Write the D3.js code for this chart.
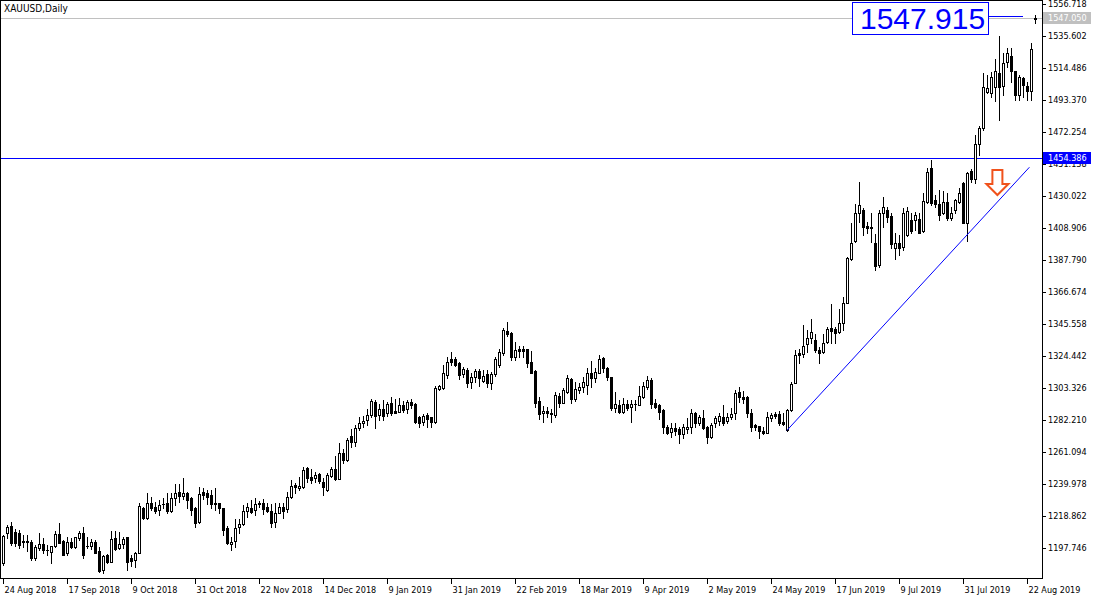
<!DOCTYPE html>
<html><head><meta charset="utf-8">
<script src="https://cdn.jsdelivr.net/npm/d3@7"></script>
<style>
html,body{margin:0;padding:0;background:#fff;}
svg{display:block;}
</style></head><body>
<svg id="c" width="1100" height="600"></svg>
<script>
const chartTitle = "XAUUSD,Daily";
const openP = [
1188.0,1207.4,1212.2,1208.5,1207.8,1202.3,1202.1,1201.9,1190.9,1197.5,
1200.4,1196.6,1195.3,1199.0,1207.0,1202.6,1194.2,1201.9,1198.2,1204.1,
1207.8,1198.8,1199.0,1201.9,1195.7,1183.2,1193.1,1188.7,1204.1,1197.5,
1200.4,1204.8,1191.1,1189.8,1194.6,1223.9,1217.3,1227.6,1225.0,1222.8,
1226.6,1227.6,1222.4,1230.5,1234.9,1232.0,1233.8,1230.5,1223.9,1215.1,
1234.7,1233.8,1232.7,1227.4,1227.2,1223.9,1210.7,1200.4,1202.6,1211.4,
1213.6,1222.4,1223.9,1222.8,1227.4,1227.2,1224.6,1222.4,1215.1,1221.1,
1225.0,1223.3,1231.2,1239.1,1237.1,1237.8,1250.3,1244.8,1243.7,1246.6,
1241.5,1236.0,1245.5,1249.6,1243.0,1260.2,1256.0,1271.5,1268.0,1277.0,
1280.5,1282.0,1285.5,1294.3,1285.5,1289.2,1286.6,1293.6,1288.0,1287.7,
1292.1,1289.2,1294.3,1292.8,1284.0,1281.1,1285.5,1284.0,1281.1,1302.4,
1303.1,1311.9,1322.2,1322.2,1319.6,1312.6,1315.2,1307.5,1310.8,1314.8,
1308.2,1312.6,1306.4,1312.6,1318.5,1326.6,1341.2,1339.4,1324.0,1328.8,
1329.1,1328.8,1320.7,1314.8,1295.0,1286.6,1288.4,1287.0,1285.5,1298.0,
1293.6,1300.9,1309.0,1295.8,1302.0,1303.8,1305.3,1313.4,1309.7,1313.4,
1322.9,1316.3,1310.4,1290.3,1292.1,1287.7,1292.8,1290.6,1292.6,1292.1,
1297.6,1304.2,1308.6,1293.6,1292.1,1288.8,1277.4,1274.5,1276.7,1276.0,
1273.0,1276.1,1277.4,1287.1,1280.5,1283.3,1277.8,1270.8,1280.5,1281.8,
1284.4,1281.8,1284.0,1287.1,1300.9,1297.2,1297.2,1287.1,1278.9,1278.3,
1275.2,1273.9,1283.3,1286.2,1286.2,1281.1,1275.6,1288.8,1306.9,1326.7,
1325.8,1332.4,1336.1,1335.0,1328.4,1327.3,1333.9,1342.7,1342.1,1340.5,
1346.5,1359.7,1388.2,1400.6,1419.0,1420.8,1410.0,1409.4,1399.0,1384.5,
1418.6,1420.8,1416.9,1395.5,1398.8,1396.6,1404.3,1414.2,1414.4,1414.7,
1407.2,1426.3,1448.3,1427.4,1424.8,1418.6,1426.3,1415.3,1420.8,1426.3,
1438.4,1412.5,1446.8,1441.1,1464.4,1474.7,1498.9,1497.8,1501.8,1511.4,
1502.6,1518.7,1522.4,1512.8,1496.7,1507.7,1502.6,1499.0,1547.5];
const highP = [
1206.3,1213.0,1215.1,1210.5,1209.6,1206.3,1206.3,1203.0,1199.7,1207.4,
1204.1,1199.7,1199.0,1209.2,1214.0,1203.0,1205.2,1204.1,1205.2,1209.2,
1211.8,1204.8,1203.4,1203.0,1198.6,1193.1,1193.8,1209.2,1209.2,1208.5,
1205.2,1205.2,1193.1,1195.3,1227.2,1225.0,1233.8,1231.6,1228.3,1229.4,
1230.5,1233.8,1233.8,1240.2,1240.0,1243.7,1234.9,1231.6,1225.0,1237.8,
1237.2,1236.0,1236.0,1237.2,1227.7,1224.4,1212.3,1205.2,1216.7,1216.7,
1226.1,1227.7,1229.4,1230.5,1228.9,1229.8,1227.7,1226.8,1227.7,1227.2,
1227.2,1234.9,1242.6,1240.4,1244.8,1251.0,1251.0,1249.6,1248.1,1247.4,
1243.7,1247.0,1251.0,1258.4,1266.8,1262.8,1270.5,1276.5,1278.9,1284.4,
1284.8,1289.2,1295.8,1295.4,1292.8,1295.4,1294.3,1297.2,1295.8,1296.5,
1295.0,1295.4,1295.8,1293.5,1284.8,1286.2,1287.0,1284.4,1304.6,1305.3,
1318.5,1324.0,1327.3,1324.0,1320.7,1317.4,1316.3,1313.0,1315.6,1315.6,
1315.2,1315.2,1314.1,1324.0,1328.8,1342.7,1347.1,1340.5,1333.9,1331.0,
1331.0,1329.0,1328.0,1315.0,1297.2,1291.4,1291.0,1289.2,1300.9,1300.2,
1303.1,1311.9,1309.7,1307.5,1306.8,1310.4,1316.3,1321.4,1316.3,1325.1,
1324.0,1317.4,1310.8,1300.9,1295.4,1296.5,1295.4,1295.4,1295.4,1304.6,
1307.5,1311.2,1309.7,1295.8,1292.8,1289.2,1279.0,1280.0,1280.4,1277.8,
1279.6,1283.3,1289.3,1287.7,1285.5,1288.8,1278.3,1280.0,1284.9,1286.6,
1292.1,1286.6,1289.9,1302.0,1304.2,1301.6,1298.1,1289.3,1279.6,1278.3,
1277.8,1287.7,1287.1,1287.7,1288.4,1286.6,1289.3,1307.5,1328.4,1328.9,
1344.9,1341.6,1348.7,1339.0,1330.6,1339.0,1343.8,1358.8,1343.4,1355.3,
1363.6,1389.6,1412.0,1424.8,1439.5,1421.9,1413.1,1418.6,1405.0,1420.5,
1429.6,1423.0,1418.6,1405.9,1404.3,1421.9,1423.0,1418.6,1419.7,1418.6,
1432.3,1448.3,1453.8,1430.7,1434.0,1433.6,1431.8,1422.6,1427.9,1435.1,
1439.5,1446.1,1447.7,1470.3,1476.2,1511.4,1509.9,1512.1,1520.2,1535.6,
1524.2,1527.5,1527.5,1512.8,1509.9,1508.4,1505.5,1531.2,1549.5];
const lowP = [
1186.5,1204.1,1199.7,1199.0,1197.5,1198.2,1196.0,1189.8,1189.8,1196.3,
1194.2,1193.1,1188.0,1198.6,1200.8,1192.8,1193.1,1197.5,1197.5,1203.0,
1190.9,1197.5,1196.8,1194.2,1182.1,1181.0,1187.6,1188.2,1196.4,1196.8,
1197.5,1183.2,1185.8,1184.9,1194.2,1216.6,1216.6,1222.8,1220.6,1219.5,
1223.9,1220.6,1221.7,1226.1,1228.3,1229.8,1223.9,1219.5,1211.8,1214.5,
1229.8,1226.8,1223.9,1222.8,1220.6,1206.3,1200.4,1196.4,1198.6,1207.9,
1212.9,1218.4,1220.6,1219.5,1225.0,1220.2,1221.7,1211.8,1211.8,1220.6,
1217.3,1221.7,1230.5,1233.8,1236.0,1237.1,1241.5,1240.4,1241.5,1240.8,
1232.7,1235.6,1244.8,1242.6,1243.0,1254.0,1255.0,1264.5,1265.0,1275.6,
1277.8,1278.9,1284.4,1276.7,1282.2,1282.2,1284.8,1285.5,1286.6,1287.7,
1287.7,1286.6,1289.9,1280.0,1277.8,1278.9,1277.8,1277.4,1280.5,1302.0,
1302.5,1309.7,1318.5,1317.8,1309.0,1310.8,1303.8,1303.1,1307.5,1304.6,
1307.5,1304.2,1302.4,1311.2,1317.0,1325.1,1337.6,1321.8,1321.8,1324.0,
1323.6,1317.0,1313.0,1291.0,1282.6,1281.1,1284.0,1281.1,1284.4,1291.0,
1293.2,1299.8,1293.2,1295.0,1299.8,1300.9,1299.4,1304.2,1307.5,1313.0,
1314.1,1308.6,1288.8,1287.7,1286.6,1286.6,1288.8,1281.1,1288.8,1292.0,
1296.5,1302.4,1289.9,1289.9,1282.6,1273.4,1273.0,1271.2,1272.3,1266.8,
1270.1,1273.4,1273.9,1277.8,1278.9,1276.1,1266.8,1270.1,1277.8,1278.9,
1278.9,1280.0,1282.7,1282.7,1294.3,1293.2,1284.4,1275.2,1275.6,1270.1,
1273.0,1273.4,1281.8,1283.3,1278.9,1278.9,1275.2,1288.4,1306.4,1320.1,
1324.0,1327.3,1332.8,1327.3,1320.1,1326.7,1333.3,1332.8,1333.3,1339.4,
1341.6,1359.2,1387.8,1399.9,1413.1,1404.3,1405.4,1399.9,1381.5,1383.0,
1409.8,1413.1,1396.0,1388.5,1391.0,1394.4,1403.7,1405.4,1407.6,1405.4,
1406.5,1425.2,1424.1,1423.0,1414.2,1418.2,1414.2,1414.2,1418.6,1425.2,
1412.0,1400.6,1439.5,1438.4,1457.1,1473.5,1497.8,1495.6,1493.0,1480.2,
1496.7,1515.4,1505.5,1493.4,1493.4,1495.6,1493.4,1493.4,1544.4];
const closeP = [
1205.5,1211.8,1200.8,1200.8,1199.7,1201.9,1201.7,1190.9,1198.2,1200.4,
1196.4,1196.2,1199.0,1207.0,1201.2,1193.1,1201.9,1198.2,1204.8,1207.8,
1193.1,1199.0,1201.9,1194.6,1182.8,1192.4,1188.7,1203.4,1196.8,1200.4,
1203.4,1188.7,1189.4,1194.2,1225.4,1217.3,1227.2,1223.9,1222.4,1226.1,
1226.8,1222.4,1230.5,1233.8,1232.0,1233.8,1229.4,1222.8,1214.5,1233.4,
1232.7,1231.6,1226.8,1227.0,1223.9,1209.6,1200.8,1201.9,1210.7,1213.6,
1222.2,1224.6,1221.7,1226.8,1227.0,1223.3,1222.4,1214.5,1221.1,1224.6,
1222.4,1231.2,1238.6,1237.8,1238.6,1249.2,1244.1,1242.6,1245.9,1242.2,
1238.2,1245.9,1249.6,1243.0,1260.2,1255.8,1269.0,1268.0,1276.7,1280.0,
1281.5,1285.5,1295.0,1284.8,1289.2,1284.8,1292.8,1286.6,1287.0,1292.1,
1288.8,1294.3,1292.1,1281.1,1280.0,1284.8,1282.6,1281.1,1303.1,1304.6,
1313.0,1320.7,1320.7,1318.5,1311.9,1315.6,1306.8,1310.8,1314.8,1309.7,
1311.2,1306.4,1312.6,1322.2,1327.3,1341.6,1339.0,1324.0,1328.4,1327.7,
1328.0,1320.0,1313.4,1293.6,1286.2,1288.4,1286.6,1286.2,1298.7,1293.6,
1302.0,1309.7,1295.8,1302.4,1303.8,1307.3,1313.0,1309.7,1314.1,1322.2,
1316.3,1310.4,1289.9,1292.8,1287.7,1292.8,1289.9,1292.8,1292.9,1298.0,
1304.6,1308.6,1292.8,1291.0,1287.7,1277.4,1273.8,1276.7,1275.2,1273.0,
1277.4,1277.8,1286.6,1280.0,1284.0,1276.7,1270.8,1278.9,1283.3,1284.9,
1280.0,1284.4,1286.2,1300.3,1297.2,1295.9,1286.6,1277.8,1277.8,1275.2,
1273.9,1284.0,1285.5,1284.9,1280.0,1279.6,1288.8,1306.0,1325.1,1325.1,
1331.1,1336.1,1340.5,1328.4,1326.7,1333.3,1342.1,1341.2,1339.9,1346.5,
1359.7,1388.9,1399.2,1419.0,1424.1,1409.4,1408.9,1409.0,1384.0,1418.6,
1422.6,1416.4,1398.5,1399.3,1395.5,1418.6,1420.4,1407.2,1417.5,1405.9,
1427.0,1446.1,1425.2,1424.8,1417.5,1426.3,1415.3,1418.6,1427.4,1431.8,
1412.5,1445.5,1441.1,1464.4,1474.7,1501.8,1501.1,1508.8,1512.8,1501.8,
1517.6,1524.2,1512.8,1496.7,1508.4,1503.3,1499.0,1526.8,1547.05];

const yTickValues = [1197.746,1218.862,1239.978,1261.094,1282.210,1303.326,1324.442,1345.558,1366.674,1387.790,1408.906,1430.022,1451.138,1472.254,1493.370,1514.486,1535.602,1556.718];
const xTickBars = [0,16,32,48,64,80,96,112,128,144,160,176,192,208,224,240,256];
const xTickLabels = ["24 Aug 2018","17 Sep 2018","9 Oct 2018","31 Oct 2018","22 Nov 2018","14 Dec 2018","9 Jan 2019","31 Jan 2019","22 Feb 2019","18 Mar 2019","9 Apr 2019","2 May 2019","24 May 2019","17 Jun 2019","9 Jul 2019","31 Jul 2019","22 Aug 2019"];
const levelPrice = 1454.386;
const bidPrice = 1547.050;
const bigLabel = "1547.915";
const trendBars = [196, 256.6];
const trendPrices = [1275.4, 1449.0];
const arrowBar = 248.6, arrowPrice = 1430.7;

const FONT = '"DejaVu Sans Condensed","DejaVu Sans",sans-serif';
const W = 1100, H = 600, plotR = 1042, plotB = 578;
const svg = d3.select("#c");
const n = openP.length;
const x = d3.scaleLinear().domain([0, n - 1]).range([3, 3 + 4 * (n - 1)]);
const y = d3.scaleLinear().domain([1197.746, 1556.718]).range([548, 4]);
const py = v => Math.round(y(v));

svg.append("rect").attr("width", W).attr("height", H).attr("fill", "#fff");
svg.append("defs").append("clipPath").attr("id", "clip")
  .append("rect").attr("x", 0).attr("y", 0).attr("width", plotR).attr("height", plotB);

const plot = svg.append("g").attr("clip-path", "url(#clip)");

// bid line (gray) and level line (blue)
plot.append("line").attr("x1", 0).attr("x2", plotR)
  .attr("y1", py(bidPrice) - 0.5).attr("y2", py(bidPrice) - 0.5)
  .attr("stroke", "#c0c0c0").attr("shape-rendering", "crispEdges");
plot.append("line").attr("x1", 0).attr("x2", plotR)
  .attr("y1", py(levelPrice) - 0.5).attr("y2", py(levelPrice) - 0.5)
  .attr("stroke", "#0000ff").attr("shape-rendering", "crispEdges");

// candles
const bars = openP.map((o, i) => ({ i, o, h: highP[i], l: lowP[i], c: closeP[i] }));
const cg = plot.append("g").attr("shape-rendering", "crispEdges");
cg.selectAll("rect.wick").data(bars).join("rect").attr("class", "wick")
  .attr("x", d => Math.round(x(d.i)))
  .attr("y", d => py(d.h))
  .attr("width", 1)
  .attr("height", d => Math.max(1, py(d.l) - py(d.h) + 1))
  .attr("fill", "#000");
cg.selectAll("rect.body").data(bars).join("rect").attr("class", "body")
  .attr("x", d => Math.round(x(d.i)) - 1)
  .attr("y", d => Math.min(py(d.o), py(d.c)))
  .attr("width", 3)
  .attr("height", d => Math.abs(py(d.o) - py(d.c)) + 1)
  .attr("fill", "#000");
cg.selectAll("rect.inner").data(bars.filter(d => d.c > d.o && Math.abs(py(d.o) - py(d.c)) >= 2))
  .join("rect").attr("class", "inner")
  .attr("x", d => Math.round(x(d.i)))
  .attr("y", d => py(d.c) + 1)
  .attr("width", 1)
  .attr("height", d => py(d.o) - py(d.c) - 1)
  .attr("fill", "#fff");

// trend line
plot.append("line")
  .attr("x1", x(trendBars[0])).attr("y1", y(trendPrices[0]))
  .attr("x2", x(trendBars[1])).attr("y2", y(trendPrices[1]))
  .attr("stroke", "#0000ff").attr("stroke-width", 1);

// arrow (hollow, pointing down)
const ax = x(arrowBar), ay = y(arrowPrice);
const arrowPts = [[-5,-25],[5,-25],[5,-11],[11,-11],[0,0],[-11,-11],[-5,-11]];
plot.append("path")
  .attr("d", "M" + arrowPts.map(p => (ax + p[0]) + "," + (ay + p[1])).join("L") + "Z")
  .attr("fill", "#fff").attr("stroke", "#f0521c").attr("stroke-width", 2)
  .attr("stroke-linejoin", "miter");

// big text label
const by = py(bidPrice);
plot.append("rect").attr("x", 852.5).attr("y", by - 16.5).attr("width", 136).attr("height", 32)
  .attr("fill", "#fff").attr("stroke", "#0000ff").attr("shape-rendering", "crispEdges");
plot.append("line").attr("x1", 989).attr("x2", 1023).attr("y1", by - 2.5).attr("y2", by - 2.5)
  .attr("stroke", "#0000ff").attr("shape-rendering", "crispEdges");
plot.append("text").attr("x", 860).attr("y", by + 10)
  .attr("font-family", '"Liberation Sans",Arial,sans-serif').attr("font-size", 30)
  .attr("fill", "#0000ff").text(bigLabel);

// title
svg.append("text").attr("x", 4).attr("y", 12).attr("font-family", FONT).attr("font-size", 10)
  .attr("fill", "#000").text(chartTitle);

// frame
svg.append("rect").attr("x", 0.5).attr("y", 0.5).attr("width", plotR).attr("height", plotB)
  .attr("fill", "none").attr("stroke", "#000").attr("shape-rendering", "crispEdges");

// y axis
const yAxis = d3.axisRight(y).tickValues(yTickValues).tickSize(4).tickPadding(2)
  .tickFormat(d => d.toFixed(3));
const yg = svg.append("g").attr("transform", `translate(${plotR},0)`).call(yAxis);
yg.select(".domain").remove();
yg.selectAll("text").attr("font-family", FONT).attr("font-size", 9).attr("fill", "#000");
yg.selectAll("line").attr("stroke", "#000");

// x axis
const xAxis = d3.axisBottom(x).tickValues(xTickBars).tickSize(6).tickPadding(3)
  .tickFormat((d, i) => xTickLabels[i]);
const xg = svg.append("g").attr("transform", `translate(0,${plotB})`).call(xAxis);
xg.select(".domain").remove();
xg.selectAll("text").attr("font-family", FONT).attr("font-size", 9).attr("fill", "#000")
  .attr("text-anchor", "start").attr("x", 1);
xg.selectAll("line").attr("stroke", "#000");

// price labels on the axis
function axisTag(price, bg) {
  const yy = py(price);
  svg.append("rect").attr("x", plotR + 1).attr("y", yy - 7).attr("width", 48).attr("height", 12)
    .attr("fill", bg);
  svg.append("text").attr("x", plotR + 6).attr("y", yy - 1).attr("dy", "0.32em")
    .attr("font-family", FONT).attr("font-size", 9).attr("fill", "#fff").text(price.toFixed(3));
}
axisTag(levelPrice, "#0000ff");
axisTag(bidPrice, "#c0c0c0");
</script>
</body></html>
